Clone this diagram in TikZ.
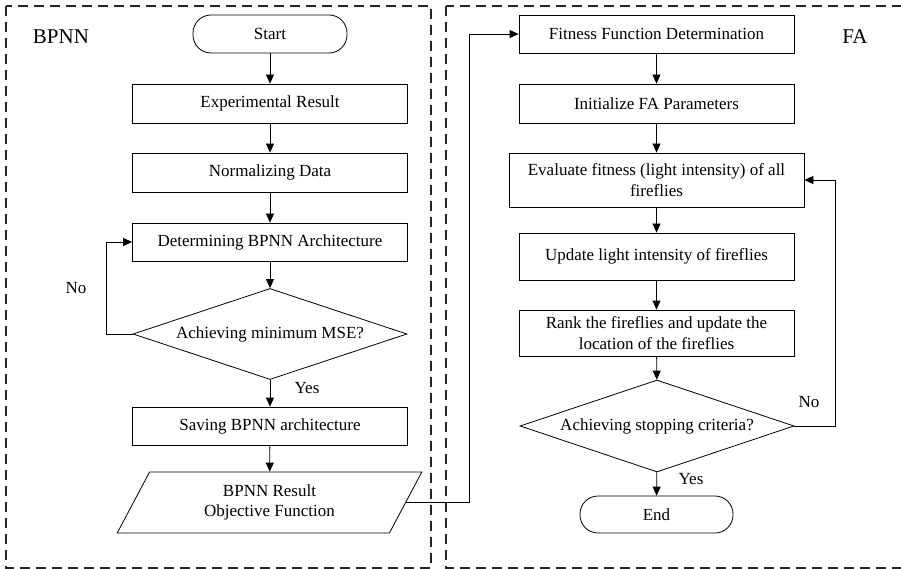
\documentclass[tikz,border=0pt]{standalone}
\usepackage{fontspec}
\setmainfont{Liberation Serif}
\usetikzlibrary{arrows.meta,shapes.geometric}
\tikzset{
  txt/.style={font=\fontsize{17}{20.5}\selectfont},
  box/.style={draw, line width=0.8pt, minimum width=275pt, inner sep=2pt, align=center, txt},
  term/.style={draw, line width=0.8pt, rounded corners=18pt, align=center, txt},
  dec/.style={draw, line width=0.8pt, diamond, aspect=3, inner sep=0pt, minimum width=274pt, align=center, txt},
  lbl/.style={inner sep=0pt, txt},
  big/.style={inner sep=0pt, font=\fontsize{21}{24}\selectfont},
  arr/.style={line width=0.8pt, -{Triangle[length=9pt,width=8pt]}},
  panel/.style={line width=1.3pt, dash pattern=on 10pt off 6pt, color=black!85}
}
\begin{document}
\begin{tikzpicture}[x=1pt,y=-1pt]
\useasboundingbox (0,0) rectangle (901,569);
\clip (0,0) rectangle (901,569);
\fill[white] (0,0) rectangle (901,569);
% panels
\draw[panel] (6,6) rectangle (431,568);
\draw[panel] (446,6) rectangle (920,568);
\node[big] (bpnn) at (61,37) {BPNN};
\node[big] (fa) at (855,37) {FA};
% left column
\node[term, minimum width=154pt, minimum height=38pt] (start) at (270,34) {Start};
\node[box, minimum height=39pt] (exp) at (270,103.5) {Experimental Result};
\node[box, minimum height=39pt] (norm) at (270,172.5) {Normalizing Data};
\node[box, minimum height=38pt] (det) at (270,242) {Determining BPNN Architecture};
\node[dec, minimum height=91pt] (dec1) at (270,334) {Achieving minimum MSE?};
\node[box, minimum height=38pt] (save) at (270,426) {Saving BPNN architecture};
\node[trapezium, draw, line width=0.8pt, trapezium left angle=63.8, trapezium right angle=116.2, trapezium stretches=true, minimum width=305pt, minimum height=61pt, inner sep=0pt, align=center, txt] (para) at (269.5,502.5) {BPNN Result\\Objective Function};
\node[lbl] (no1) at (76,288) {No};
\node[lbl] (yes1) at (307,388) {Yes};
\draw[arr] (start) -- (exp);
\draw[arr] (exp) -- (norm);
\draw[arr] (norm) -- (det);
\draw[arr] (det) -- (dec1);
\draw[arr] (dec1) -- (save);
\draw[arr] (save) -- (para);
\draw[arr] (dec1.west) -- ++(-26,0) |- (det.west);
% right column
\node[box, minimum height=38pt] (fit) at (656.5,34) {Fitness Function Determination};
\node[box, minimum height=39pt] (init) at (656.5,103.5) {Initialize FA Parameters};
\node[box, minimum width=295pt, minimum height=54pt] (eval) at (656.5,180) {Evaluate fitness (light intensity) of all\\fireflies};
\node[box, minimum height=47pt] (upd) at (656.5,256.5) {Update light intensity of fireflies};
\node[box, minimum height=46pt] (rank) at (656.5,333) {Rank the fireflies and update the\\location of the fireflies};
\node[dec, minimum height=92pt] (dec2) at (657,426) {Achieving stopping criteria?};
\node[term, minimum width=153pt, minimum height=37pt] (end) at (656.5,514.5) {End};
\node[lbl] (no2) at (809,402) {No};
\node[lbl] (yes2) at (691,479) {Yes};
\draw[arr] (fit) -- (init);
\draw[arr] (init) -- (eval);
\draw[arr] (eval) -- (upd);
\draw[arr] (upd) -- (rank);
\draw[arr] (rank) -- (dec2);
\draw[arr] (dec2) -- (end);
\draw[arr] (dec2.east) -- ++(41,0) |- (eval.east);
% link
\draw[arr] (para.east) -- ++(63,0) |- (fit.west);
\end{tikzpicture}
\end{document}
